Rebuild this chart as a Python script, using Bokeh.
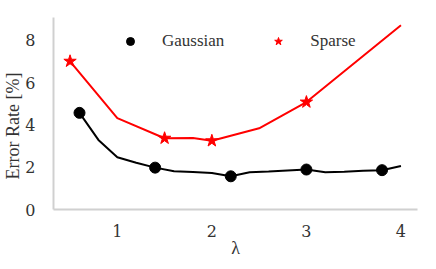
import math
from bokeh.plotting import figure
from bokeh.models import Range1d, FixedTicker, Legend, LegendItem, Title
from bokeh.embed import file_html
from bokeh.resources import INLINE

# Data
gauss_x = [0.6, 0.8, 1.0, 1.2, 1.4, 1.6, 1.8, 2.0, 2.2, 2.4, 2.6, 2.8, 3.0, 3.2, 3.4, 3.6, 3.8, 4.0]
gauss_y = [4.57, 3.29, 2.47, 2.21, 1.98, 1.81, 1.77, 1.73, 1.57, 1.76, 1.80, 1.85, 1.89, 1.76, 1.79, 1.83, 1.86, 2.06]
gauss_marker_idx = [0, 4, 8, 12, 16]

sparse_x = [0.5, 1.0, 1.5, 1.8, 2.0, 2.5, 3.0, 4.0]
sparse_y = [7.01, 4.32, 3.37, 3.38, 3.25, 3.84, 5.08, 8.71]
sparse_marker_idx = [0, 2, 4, 6]

x_ticks = [1, 2, 3, 4]
y_ticks = [0, 2, 4, 6, 8]

FONT = "Liberation Serif"
TICK_FONT = "DejaVu Serif"
TXT = "#333333"

p = figure(width=436, height=269, output_backend="svg", toolbar_location=None,
           x_range=Range1d(0.325, 4.175), y_range=Range1d(0, 9.08),
           min_border_left=52, min_border_right=19, min_border_top=17, min_border_bottom=60)
p.outline_line_color = None
p.xgrid.visible = False
p.ygrid.visible = False

p.line(gauss_x, gauss_y, line_color="black", line_width=2)
g = p.scatter([gauss_x[i] for i in gauss_marker_idx], [gauss_y[i] for i in gauss_marker_idx],
              marker="circle", size=11, fill_color="black", line_color="black")
p.line(sparse_x, sparse_y, line_color="red", line_width=2)
s = p.scatter([sparse_x[i] for i in sparse_marker_idx], [sparse_y[i] for i in sparse_marker_idx],
              marker="star", size=13, fill_color="red", line_color="red")

p.axis.axis_line_color = "#d0d0d0"
p.axis.axis_line_width = 2
p.axis.major_tick_out = 0
p.axis.major_tick_in = 0
p.axis.minor_tick_out = 0
p.axis.minor_tick_in = 0
p.axis.major_label_text_font = TICK_FONT
p.axis.major_label_text_font_size = "16px"
p.axis.major_label_text_color = TXT
p.axis.axis_label_text_font = FONT
p.axis.axis_label_text_font_size = "18px"
p.axis.axis_label_text_font_style = "normal"
p.axis.axis_label_text_color = TXT

p.xaxis.ticker = FixedTicker(ticks=x_ticks)
p.yaxis.ticker = FixedTicker(ticks=y_ticks)
p.xaxis.axis_label = "λ"
p.xaxis.major_label_standoff = 15
p.yaxis.major_label_standoff = 18
p.xaxis.axis_label_standoff = -2

ytitle = Title(text="Error Rate [%]", align="left", offset=30, standoff=0,
               text_font=FONT, text_font_size="18px", text_font_style="normal",
               text_color=TXT)
p.add_layout(ytitle, "left")

legend = Legend(items=[LegendItem(label="Gaussian", renderers=[g]),
                       LegendItem(label="Sparse", renderers=[s])],
                orientation="horizontal", location=(67, 158),
                padding=0, margin=0, spacing=44, glyph_width=20, glyph_height=20,
                label_standoff=22, border_line_color=None, background_fill_alpha=0,
                label_text_font=FONT, label_text_font_size="17px", label_text_color=TXT)
p.add_layout(legend, "center")

open("out.html", "w").write(file_html(p, INLINE))
